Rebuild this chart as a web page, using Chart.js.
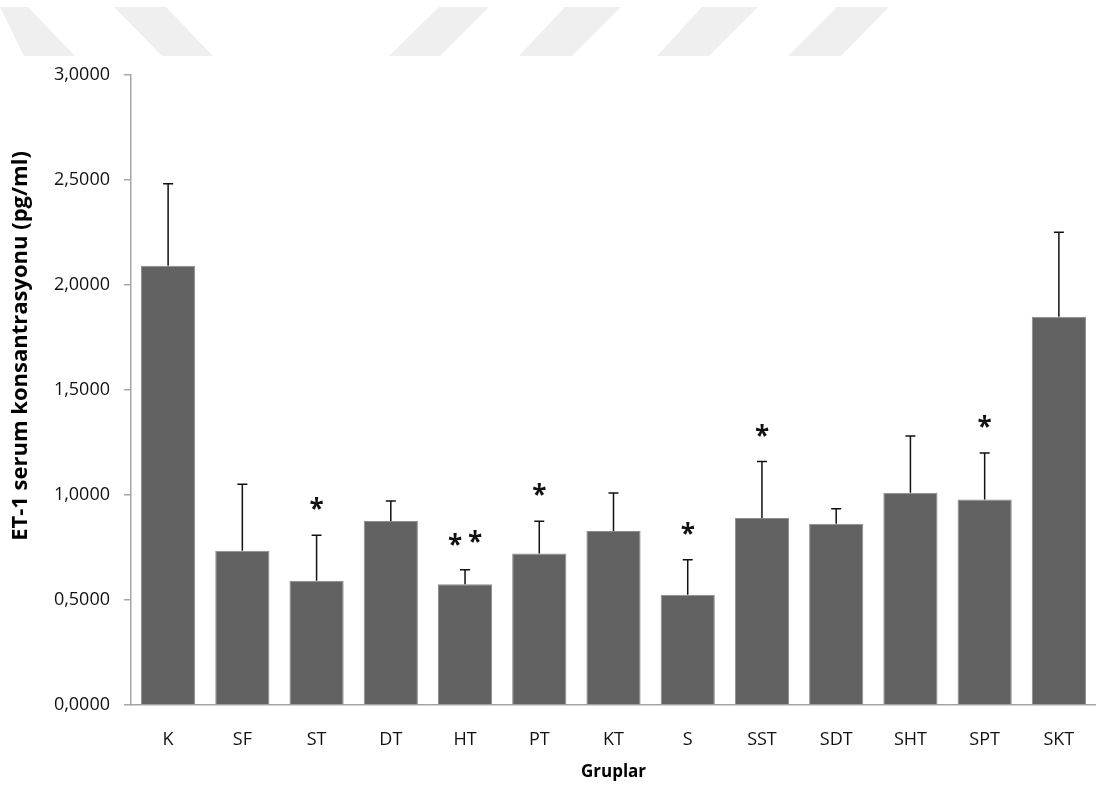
<!DOCTYPE html>
<html lang="tr">
<head>
    <meta charset="UTF-8">
    <script src="https://cdn.jsdelivr.net/npm/chart.js"></script>
    <title>ET-1</title>
    <style>
        body { margin: 0; background: #fff; }
        canvas { display: block; }
    </style>
</head>
<body>
    <canvas id="myChart" width="1096" height="787"></canvas>

    <script>
        // gruplar ve degerler
        const groups = ["K", "SF", "ST", "DT", "HT", "PT", "KT", "S", "SST", "SDT", "SHT", "SPT", "SKT"];
        const means = [2.092, 0.735, 0.592, 0.876, 0.575, 0.721, 0.829, 0.525, 0.890, 0.863, 1.011, 0.978, 1.849];
        const errors = [0.390, 0.316, 0.216, 0.095, 0.069, 0.154, 0.181, 0.167, 0.269, 0.072, 0.270, 0.222, 0.402];
        const stars = [0, 0, 1, 0, 2, 1, 0, 1, 1, 0, 0, 1, 0];
        const yTicks = [0, 0.5, 1, 1.5, 2, 2.5, 3];
        const yTitle = "ET-1 serum konsantrasyonu (pg/ml)";

        // ust kisimdaki soluk filigran seritleri: [ust sol, ust sag, alt sol, alt sag]
        const stripes = [
            [0, 28, 24, 75], [114, 166, 162, 213],
            [439, 489, 389, 440], [565, 621, 519, 572],
            [702, 758, 657, 709], [837, 889, 788, 841]
        ];

        const watermark = {
            id: "watermark",
            beforeDraw(chart) {
                const ctx = chart.ctx;
                ctx.save();
                ctx.fillStyle = "#efefef";
                stripes.forEach(function(s) {
                    ctx.beginPath();
                    ctx.moveTo(s[0], 7);
                    ctx.lineTo(s[1], 7);
                    ctx.lineTo(s[3], 56);
                    ctx.lineTo(s[2], 56);
                    ctx.closePath();
                    ctx.fill();
                });
                ctx.restore();
            }
        };

        // y ekseni basligi biraz yukarida duruyor, o yuzden elle ciziliyor
        const sideTitle = {
            id: "sideTitle",
            afterDraw(chart) {
                const ctx = chart.ctx;
                const area = chart.chartArea;
                ctx.save();
                ctx.translate(21, (area.top + area.bottom) / 2 - 44);
                ctx.rotate(-Math.PI / 2);
                ctx.fillStyle = "#000";
                ctx.font = "bold 22px 'Open Sans'";
                ctx.textAlign = "center";
                ctx.textBaseline = "middle";
                ctx.fillText(yTitle, 0, 0);
                ctx.restore();
            }
        };

        const errorBars = {
            id: "errorBars",
            afterDatasetsDraw(chart) {
                const ctx = chart.ctx;
                const yScale = chart.scales.y;
                const meta = chart.getDatasetMeta(0);
                ctx.save();
                ctx.strokeStyle = "#111";
                ctx.lineWidth = 1.5;
                ctx.fillStyle = "#111";
                ctx.font = "bold 26px 'Open Sans'";
                ctx.textAlign = "center";
                ctx.textBaseline = "alphabetic";
                meta.data.forEach(function(bar, i) {
                    const top = yScale.getPixelForValue(means[i] + errors[i]);
                    ctx.beginPath();
                    ctx.moveTo(bar.x, bar.y);
                    ctx.lineTo(bar.x, top);
                    ctx.moveTo(bar.x - 5, top);
                    ctx.lineTo(bar.x + 5, top);
                    ctx.stroke();

                    const starY = top - 31 + 14;
                    if (stars[i] === 1) {
                        ctx.fillText("*", bar.x, starY);
                    } else if (stars[i] === 2) {
                        ctx.fillText("*", bar.x - 10, starY + 1);
                        ctx.fillText("*", bar.x + 10, starY - 2);
                    }
                });
                ctx.restore();
            }
        };

        new Chart("myChart", {
            type: "bar",
            data: {
                labels: groups,
                datasets: [{
                    data: means,
                    backgroundColor: "#626262",
                    borderColor: "#8c8c8c",
                    borderWidth: 1,
                    categoryPercentage: 1,
                    barPercentage: 0.73
                }]
            },
            options: {
                responsive: false,
                animation: false,
                layout: { padding: { top: 75, right: 0, bottom: 0, left: 0 } },
                plugins: {
                    legend: { display: false },
                    tooltip: { enabled: false }
                },
                scales: {
                    x: {
                        grid: { display: false },
                        border: { display: true, color: "#a6a6a6", width: 1.5 },
                        ticks: {
                            color: "#111",
                            font: { family: "Open Sans", size: 18 },
                            padding: 16,
                            maxRotation: 0
                        },
                        title: {
                            display: true,
                            text: "Gruplar",
                            color: "#000",
                            font: { family: "Open Sans", size: 17, weight: "bold" },
                            padding: { top: 0, bottom: 5 }
                        },
                        afterFit: function(scale) { scale.height = 82; }
                    },
                    y: {
                        min: 0,
                        max: 3,
                        afterBuildTicks: function(scale) {
                            scale.ticks = yTicks.map(function(v) { return { value: v }; });
                        },
                        grid: {
                            display: true,
                            drawOnChartArea: false,
                            drawTicks: true,
                            tickLength: 7,
                            color: "#a6a6a6",
                            lineWidth: 1.5
                        },
                        border: { display: true, color: "#a6a6a6", width: 1.5 },
                        ticks: {
                            color: "#111",
                            font: { family: "Open Sans", size: 18 },
                            padding: 14,
                            callback: function(v) { return v.toFixed(4).replace(".", ","); }
                        },
                        title: { display: false },
                        afterFit: function(scale) { scale.width = 131; }
                    }
                }
            },
            plugins: [watermark, errorBars, sideTitle]
        });
    </script>
</body>
</html>
